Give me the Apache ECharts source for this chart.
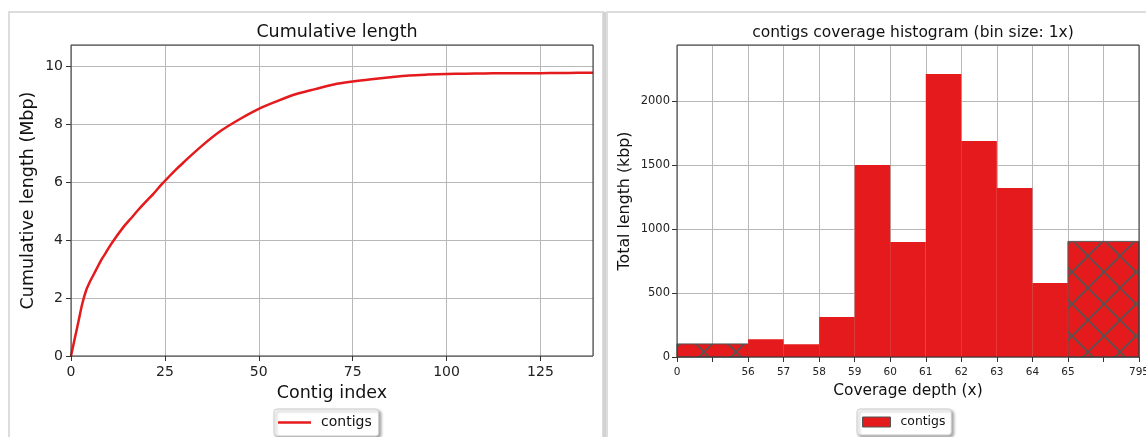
<!DOCTYPE html>
<html>
<head>
<meta charset="utf-8">
<script src="https://cdn.jsdelivr.net/npm/echarts@6/dist/echarts.min.js"></script>
<style>
html,body{margin:0;padding:0;background:#fff;}
#chart{width:1146px;height:437px;}
</style>
</head>
<body>
<div id="chart"></div>
<script>
// ---- Cumulative length (left chart) ----
const cumIndex  = [0, 1, 2, 3, 4, 5, 6, 7, 8, 9, 10, 12, 14, 16, 18, 20, 22, 24, 26, 28, 30, 35, 40, 45, 50, 55, 60, 65, 70, 75, 80, 85, 90, 95, 100, 105, 110, 115, 120, 125, 130, 135, 139];
const cumLength = [0, 0.6, 1.2, 1.8, 2.25, 2.55, 2.8, 3.05, 3.3, 3.5, 3.72, 4.1, 4.45, 4.75, 5.05, 5.33, 5.6, 5.9, 6.17, 6.43, 6.68, 7.26, 7.77, 8.17, 8.52, 8.79, 9.03, 9.2, 9.36, 9.46, 9.54, 9.61, 9.67, 9.70, 9.72, 9.73, 9.74, 9.745, 9.75, 9.75, 9.755, 9.76, 9.76];

// ---- Coverage histogram (right chart) ----
const covTickLabels = ['0', '', '56', '57', '58', '59', '60', '61', '62', '63', '64', '65', '', '795'];
const covBinStart   = [0, 2, 3, 4, 5, 6, 7, 8, 9, 10, 11];
const covBinEnd     = [2, 3, 4, 5, 6, 7, 8, 9, 10, 11, 13];
const covValues     = [102, 138, 99, 312, 1500, 898, 2211, 1688, 1320, 578, 903];
const covHatched    = [1, 0, 0, 0, 0, 0, 0, 0, 0, 0, 1];

const RED = '#e41a1c';
const FONT = 'DejaVu Sans';

function makeHatch() {
  const s = 32;
  const c = document.createElement('canvas');
  c.width = s; c.height = s;
  const g = c.getContext('2d');
  g.fillStyle = RED; g.fillRect(0, 0, s, s);
  g.strokeStyle = '#555555'; g.lineWidth = 1.6;
  g.beginPath();
  g.moveTo(-2, -2); g.lineTo(s + 2, s + 2);
  g.moveTo(s + 2, -2); g.lineTo(-2, s + 2);
  g.stroke();
  return c;
}
const hatchPattern = { type: 'pattern', image: makeHatch(), repeat: 'repeat' };

const cumData = cumIndex.map((x, i) => [x, cumLength[i]]);
const covData = covValues.map((v, i) => [covBinStart[i], covBinEnd[i], v, covHatched[i]]);

const chart = echarts.init(document.getElementById('chart'), null, { renderer: 'canvas' });

const axisCol = '#333';
const gridCol = '#b8b8b8';

const option = {
  animation: false,
  backgroundColor: '#fff',
  textStyle: { fontFamily: FONT },
  graphic: [
    { type: 'rect', shape: { x: 9, y: 12, width: 594, height: 460 }, style: { fill: 'none', stroke: '#dddddd', lineWidth: 2 }, silent: true },
    { type: 'rect', shape: { x: 603, y: 12, width: 3, height: 430 }, style: { fill: '#d2d2d2' }, silent: true },
    { type: 'rect', shape: { x: 607, y: 12, width: 600, height: 460 }, style: { fill: 'none', stroke: '#dddddd', lineWidth: 2 }, silent: true }
  ],
  title: [
    { text: 'Cumulative length', left: 332, top: 18, textAlign: 'center',
      textStyle: { fontFamily: FONT, fontSize: 17.5, fontWeight: 'normal', color: '#111' } },
    { text: 'contigs coverage histogram (bin size: 1x)', left: 908, top: 20, textAlign: 'center',
      textStyle: { fontFamily: FONT, fontSize: 15.5, fontWeight: 'normal', color: '#111' } }
  ],
  legend: [
    { left: 274, top: 409, orient: 'horizontal',
      data: [{ name: 'contigs', icon: 'rect', itemStyle: { color: RED, borderWidth: 0 } }],
      itemWidth: 33, itemHeight: 2.5,
      padding: [6.5, 7, 6.5, 4],
      textStyle: { fontFamily: FONT, fontSize: 14, color: '#111', padding: [0, 0, 0, 5] },
      backgroundColor: '#fff', borderColor: '#cccccc', borderWidth: 1, borderRadius: 3,
      shadowColor: 'rgba(0,0,0,0.35)', shadowBlur: 3, shadowOffsetX: 2, shadowOffsetY: 2,
      selectedMode: false },
    { left: 857, top: 409, orient: 'horizontal',
      data: [{ name: 'contigs', icon: 'rect', itemStyle: { color: RED, borderColor: '#555', borderWidth: 1 } }],
      itemWidth: 28, itemHeight: 10,
      padding: [7, 6, 7, 5],
      textStyle: { fontFamily: FONT, fontSize: 12.4, color: '#111', padding: [0, 0, 0, 5] },
      backgroundColor: '#fff', borderColor: '#cccccc', borderWidth: 1, borderRadius: 3,
      shadowColor: 'rgba(0,0,0,0.35)', shadowBlur: 3, shadowOffsetX: 2, shadowOffsetY: 2,
      selectedMode: false }
  ],
  grid: [
    { left: 71, top: 45, width: 522, height: 311, show: true, z: 10, outerBoundsMode: 'none', containLabel: false,
      borderColor: axisCol, borderWidth: 1, backgroundColor: 'transparent' },
    { left: 677, top: 45, width: 462, height: 312, show: true, z: 10, outerBoundsMode: 'none', containLabel: false,
      borderColor: axisCol, borderWidth: 1, backgroundColor: 'transparent' }
  ],
  xAxis: [
    { gridIndex: 0, type: 'value', min: 0, max: 139, interval: 25,
      name: 'Contig index', nameLocation: 'middle', nameGap: 28,
      nameTextStyle: { fontFamily: FONT, fontSize: 17.5, color: '#111' },
      axisLine: { show: false },
      axisTick: { show: true, length: 5, lineStyle: { color: axisCol } },
      axisLabel: { fontFamily: FONT, fontSize: 14, color: '#222', margin: 9, showMaxLabel: false },
      splitLine: { show: true, lineStyle: { color: gridCol, width: 1 } } },
    { gridIndex: 1, type: 'value', min: 0, max: 13, interval: 1,
      name: 'Coverage depth (x)', nameLocation: 'middle', nameGap: 26,
      nameTextStyle: { fontFamily: FONT, fontSize: 15.4, color: '#111' },
      axisLine: { show: false },
      axisTick: { show: true, length: 5, lineStyle: { color: axisCol } },
      axisLabel: { fontFamily: FONT, fontSize: 10.5, color: '#222', margin: 10,
        formatter: v => covTickLabels[Math.round(v)] },
      splitLine: { show: true, lineStyle: { color: gridCol, width: 1 } } }
  ],
  yAxis: [
    { gridIndex: 0, type: 'value', min: 0, max: 10.72, interval: 2,
      name: 'Cumulative length (Mbp)', nameLocation: 'middle', nameGap: 34,
      nameTextStyle: { fontFamily: FONT, fontSize: 17.5, color: '#111' },
      axisLine: { show: false },
      axisTick: { show: true, length: 5, lineStyle: { color: axisCol } },
      axisLabel: { fontFamily: FONT, fontSize: 14, color: '#222', margin: 8, showMaxLabel: false },
      splitLine: { show: true, lineStyle: { color: gridCol, width: 1 } } },
    { gridIndex: 1, type: 'value', min: 0, max: 2437, interval: 500,
      name: 'Total length (kbp)', nameLocation: 'middle', nameGap: 44,
      nameTextStyle: { fontFamily: FONT, fontSize: 15.8, color: '#111' },
      axisLine: { show: false },
      axisTick: { show: true, length: 5, lineStyle: { color: axisCol } },
      axisLabel: { fontFamily: FONT, fontSize: 11.5, color: '#222', margin: 7, showMaxLabel: false,
        formatter: v => String(v) },
      splitLine: { show: true, lineStyle: { color: gridCol, width: 1 } } }
  ],
  series: [
    { name: 'contigs', type: 'line', xAxisIndex: 0, yAxisIndex: 0,
      data: cumData, showSymbol: false, symbol: 'none', smooth: 0.3,
      lineStyle: { color: RED, width: 2.5, join: 'round' }, itemStyle: { color: RED }, z: 3 },
    { name: 'contigs', type: 'custom', xAxisIndex: 1, yAxisIndex: 1,
      data: covData,
      encode: { x: [0, 1], y: 2 },
      itemStyle: { color: RED },
      renderItem: function (params, api) {
        const x0 = api.value(0), x1 = api.value(1), v = api.value(2), h = api.value(3);
        const p0 = api.coord([x0, v]);
        const p1 = api.coord([x1, 0]);
        return {
          type: 'rect',
          shape: { x: p0[0], y: p0[1], width: p1[0] - p0[0], height: p1[1] - p0[1] },
          style: h ? { fill: hatchPattern, stroke: '#555555', lineWidth: 1 } : { fill: RED, stroke: null }
        };
      },
      z: 3 }
  ]
};
chart.setOption(option);
</script>
</body>
</html>
